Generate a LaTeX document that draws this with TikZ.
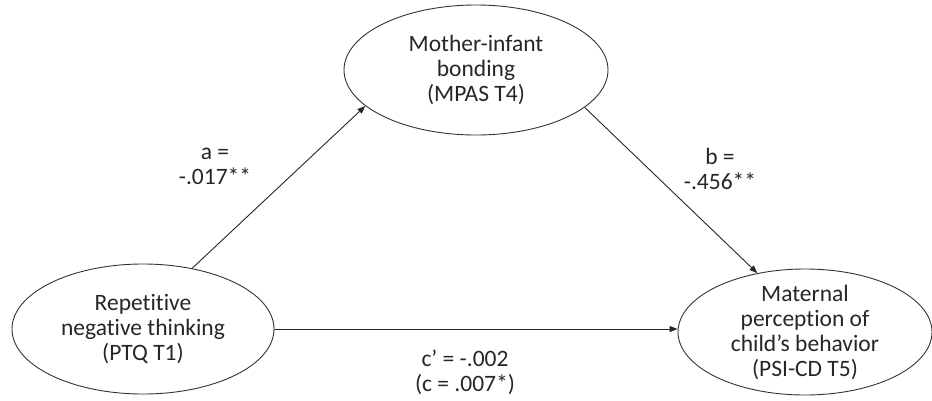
\documentclass[tikz,border=0pt]{standalone}
\usepackage{fontspec}
\setmainfont{Carlito}[Ligatures=NoCommon]
\usetikzlibrary{arrows.meta,calc,positioning,shapes.geometric}
\tikzset{
    myvar/.style={ellipse,draw=black!80,line width=0.9pt,inner sep=0pt,align=center,text=black!85},
    mypath/.style={line width=0.9pt,draw=black!85,-{Triangle[length=8pt,width=6pt]}},
    mycoef/.style={align=center,text=black!85},
    every node/.style={font=\fontsize{23.5}{25}\selectfont}
}

\begin{document}
\begin{tikzpicture}[x=1pt,y=-1pt]
  \useasboundingbox (0,0) rectangle (932,400);
  \coordinate (X) at (143,329);
  \coordinate (M) at (476,70);
  \coordinate (Y) at (805,332);

  \node[myvar,minimum width=262pt,minimum height=130pt,inner ysep=-6pt] (rnt) at (X)
    {Repetitive\\negative thinking\\(PTQ T1)};
  \node[myvar,minimum width=264pt,minimum height=130pt,inner ysep=-6pt] (mib) at (M)
    {Mother-infant\\bonding\\(MPAS T4)};
  \node[myvar,minimum width=254pt,minimum height=126pt,inner ysep=-12pt] (mpc) at (Y)
    {Maternal\\perception of\\child’s behavior\\(PSI-CD T5)};

  \draw[mypath] (rnt.51.8) -- (mib.198.3);
  \draw[mypath] (mib.341.3) -- (mpc.129.6);
  \draw[mypath] (rnt.east) -- (rnt.east -| mpc.west);

  \node[mycoef] (pa) at (215,166) {a =\\-.017**};
  \node[mycoef] (pb) at (720,169) {b =\\-.456**};
  \node[mycoef] (pc) at (465,372) {c’ = -.002\\(c = .007*)};
\end{tikzpicture}
\end{document}
